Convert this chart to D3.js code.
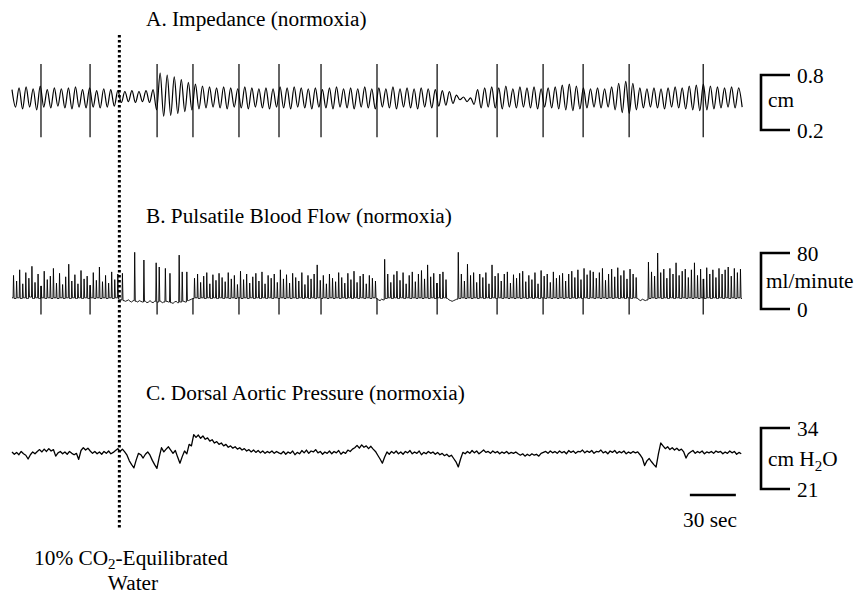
<!DOCTYPE html>
<html><head><meta charset="utf-8">
<script src="https://cdn.jsdelivr.net/npm/d3@7"></script>
<style>
body{margin:0;background:#fff}
text{font-family:"Liberation Serif","Times New Roman",serif;font-size:21.3px;fill:#000}
</style>
</head><body><svg id="c" width="858" height="595"></svg>
<script>
// ---------- data ----------
const timeSpan = [0, 476];            // seconds shown
const markerTime = 70;                // start of 10% CO2 water
const scaleBarStart = 442;            // 30 s scale bar
const scaleBarLength = 30;
const artifactTimes = [18.9, 50.9, 94.6, 118, 148, 174.1, 201.5, 238, 277.2, 316.3, 346.3, 372.4, 402.4, 450.7];
const impArtifact = [0.92, 0.12];
const flowArtifactLow = -8;

const titles = ["A. Impedance (normoxia)", "B. Pulsatile Blood Flow (normoxia)", "C. Dorsal Aortic Pressure (normoxia)"];
const impRange = [0.2, 0.8];
const flowRange = [0, 80];
const presRange = [21, 34];
const impUnit = "cm";
const flowUnit = "ml/minute";

const impStep = 2.3;
const impedance = [
0.64,0.45,0.66,0.43,0.67,0.45,0.65,0.42,0.68,0.45,0.64,0.44,0.66,0.46,0.65,0.44,0.66,0.43,0.67,0.45,
0.64,0.44,0.66,0.45,0.63,0.44,0.65,0.45,0.64,0.46,
0.63,0.50,0.62,0.51,0.63,0.50,0.62,0.51,0.63,0.50,0.64,
0.42,0.82,0.35,0.80,0.36,0.78,0.38,0.75,0.40,0.72,0.42,0.70,
0.43,0.68,0.44,0.67,0.45,0.66,0.44,0.67,0.43,0.66,0.45,0.65,0.44,0.67,0.43,0.66,0.45,0.65,0.44,0.66,
0.43,0.65,0.45,0.67,0.44,0.66,0.43,0.67,0.45,0.66,0.44,0.65,0.43,0.66,0.45,0.64,0.44,0.66,0.43,0.67,
0.45,0.65,0.44,0.66,0.43,0.65,0.45,0.67,0.44,0.65,0.43,0.66,0.45,0.65,0.44,0.67,0.43,0.65,0.45,0.66,
0.44,0.65,0.43,0.66,0.45,0.65,0.44,0.64,0.46,0.63,0.47,0.62,0.49,
0.58,0.53,0.56,0.51,0.55,0.48,
0.64,0.44,0.66,0.45,0.67,0.44,0.66,0.43,0.68,0.45,0.65,0.44,0.67,0.45,0.66,0.44,0.67,0.43,0.65,0.45,
0.66,0.44,0.67,0.43,0.69,0.42,0.70,0.41,0.68,0.43,0.66,0.44,0.65,0.45,0.66,0.44,0.65,0.45,0.67,0.42,
0.71,0.39,0.73,0.38,0.71,0.42,0.66,0.44,0.65,0.45,0.66,0.44,0.65,0.43,0.66,0.45,0.67,0.44,0.66,0.43,
0.68,0.42,0.69,0.41,0.70,0.42,0.68,0.43,0.67,0.44,0.66,0.45,0.67,0.44,0.66,0.45
];

const flowStep = 1;
const flow = [
16,48,15,40,16,56,15,36,16,52,15,44,17,61,15,38,16,50,15,33,
16,54,15,42,16,47,15,58,16,37,15,51,16,35,15,46,16,64,15,40,
16,49,15,36,16,55,15,43,16,47,15,34,16,52,15,41,16,60,15,39,
16,48,15,37,16,53,15,42,16,50,
14,13,51,12,11,12,13,11,10,12,81,11,10,12,11,10,70,11,9,10,
12,10,9,11,66,10,60,11,9,10,58,11,10,51,9,8,10,11,9,77,
10,53,11,10,53,12,13,14,15,
44,16,50,15,38,16,47,15,52,16,36,15,49,16,41,15,51,16,45,15,
39,16,52,15,43,16,48,15,35,16,54,15,42,16,50,15,37,16,46,15,
51,16,40,15,53,16,36,15,48,16,44,15,50,16,38,15,56,16,43,15,
49,16,37,15,51,16,45,15,40,16,52,15,35,16,48,15,43,16,50,15,
63,16,41,15,48,16,36,15,50,16,44,15,39,16,52,15,45,16,37,15,
51,16,42,15,54,16,38,15,47,16,50,15,36,16,48,15,44,16,40,15,
13,12,14,13,71,15,50,16,38,15,49,16,54,15,41,16,52,15,36,16,
48,15,53,16,39,15,50,16,55,15,43,16,63,15,46,16,51,15,37,16,
50,15,53,16,42,15,13,12,11,12,13,14,81,15,50,16,40,15,64,16,
48,15,52,16,38,15,50,16,45,15,52,16,36,15,63,16,47,15,51,16,
40,15,50,16,53,15,37,16,49,15,44,16,51,15,54,16,39,15,48,16,
42,15,52,16,36,15,55,16,47,15,50,16,38,15,53,16,44,15,48,16,
51,15,40,16,50,15,54,16,45,15,56,16,42,15,58,16,49,15,55,16,
53,15,44,16,52,15,58,16,41,15,50,16,57,15,46,16,59,15,48,16,
55,15,43,16,57,15,50,16,45,15,13,12,14,13,12,13,67,15,53,16,
47,15,80,16,52,15,57,16,44,15,58,16,50,15,66,16,48,15,54,16,
57,15,45,16,56,15,66,16,48,15,57,16,43,15,59,16,50,15,56,16,
45,15,58,16,50,15,56,16,60,15,47,16,58,15,52,16,57,15
];

const presStep = 1.5;
const pressure = [
28.9,28.4,28.8,28.3,29.0,28.5,28.2,27.4,28.3,28.9,28.5,29.0,29.4,28.9,29.5,29.0,29.6,29.1,29.4,28.0,
28.7,29.0,28.5,28.9,28.4,29.0,28.6,28.3,28.6,27.3,29.2,29.8,29.3,29.7,29.1,28.6,29.0,28.5,28.9,28.4,
29.0,28.6,29.1,28.5,28.8,29.2,29.6,
29.0,29.5,28.9,28.2,27.0,26.2,25.5,27.2,28.6,28.3,27.6,28.4,28.9,28.2,27.1,26.2,25.4,27.8,29.8,28.9,
29.5,30.0,29.3,28.6,29.2,27.8,26.5,27.9,29.1,28.5,30.5,30.2,32.6,
32.0,32.5,31.8,32.3,31.6,31.9,31.2,31.5,30.8,31.1,30.5,30.8,30.2,30.5,29.9,30.2,29.7,30.0,29.5,29.8,
29.3,29.6,29.1,29.4,28.9,29.3,28.8,29.2,28.7,29.1,28.6,29.0,28.7,29.1,28.6,29.0,28.7,
28.5,29.0,28.4,28.9,28.6,29.1,28.3,28.8,28.5,29.2,28.7,29.3,28.6,29.1,28.9,29.4,28.7,29.0,28.4,28.9,
28.6,29.1,28.5,29.0,28.7,29.2,28.4,28.9,28.6,29.3,29.0,29.5,
29.8,30.3,29.7,30.4,29.9,30.2,29.6,30.1,29.5,29.0,
28.2,27.4,26.5,27.8,28.9,28.4,29.0,
28.6,29.1,28.5,28.9,28.4,29.0,28.7,29.2,28.5,28.9,28.6,29.1,28.3,28.8,28.5,29.0,28.6,28.9,28.4,28.8,
28.3,28.6,28.1,28.4,27.9,28.2,27.5,26.8,25.7,27.4,28.8,28.5,
29.0,28.6,29.2,28.7,29.1,28.5,28.9,29.3,28.8,29.0,28.6,29.1,28.7,29.0,28.5,28.9,28.6,29.0,28.5,28.8,
28.6,28.9,28.5,
28.2,28.5,28.0,28.4,28.1,28.5,28.2,28.4,28.0,28.6,28.8,29.0,28.6,29.1,28.7,29.0,
28.6,29.1,28.7,29.0,28.5,29.2,28.8,29.1,28.6,29.0,28.9,29.3,28.7,29.1,28.8,29.2,28.6,29.0,28.9,29.3,
28.7,29.0,28.5,29.1,28.8,29.2,28.6,29.0,28.7,29.1,28.5,28.9,28.6,29.0,28.7,28.9,28.3,27.6,
26.0,27.0,27.5,26.8,26.2,25.7,28.5,30.8,30.2,
29.6,30.0,29.4,29.8,29.3,29.7,29.2,29.5,28.9,
27.6,28.5,
28.9,29.2,28.6,29.0,28.7,29.1,28.5,28.9,28.7,29.0,28.6,29.1,28.8,29.0,28.5,28.9,28.6,29.1,28.7,29.0,
28.4,28.8,28.5
];

// ---------- drawing ----------
const svg = d3.select("#c");
const x = d3.scaleLinear().domain(timeSpan).range([12, 742]);
const yImp = d3.scaleLinear().domain(impRange).range([130, 75]);
const yFlow = d3.scaleLinear().domain(flowRange).range([309, 253]);
const yPres = d3.scaleLinear().domain(presRange).range([489, 428]);

function trace(data, step, y, curve, w) {
  svg.append("path")
    .datum(data)
    .attr("fill", "none").attr("stroke", "#000").attr("stroke-width", w)
    .attr("stroke-linejoin", "round")
    .attr("d", d3.line().x((d, i) => x(i * step)).y(d => y(d)).curve(curve));
}
trace(impedance, impStep, yImp, d3.curveMonotoneX, 1.2);
trace(pressure, presStep, yPres, d3.curveLinear, 1.3);

// pulsatile flow: each beat is drawn as a near-vertical spike at its sample time
(function () {
  const pts = [];
  flow.forEach((v, i) => {
    const prev = i > 0 ? flow[i - 1] : v, next = i < flow.length - 1 ? flow[i + 1] : v;
    const px = x(i * flowStep);
    if (v > prev + 5 && v > next + 5) {
      pts.push([px - 0.45, yFlow(prev)], [px, yFlow(v)], [px + 0.6, yFlow(next)]);
    } else {
      pts.push([px, yFlow(v)]);
    }
  });
  svg.append("path").attr("fill", "none").attr("stroke", "#000").attr("stroke-width", 0.9)
    .attr("stroke-linejoin", "miter").attr("d", d3.line()(pts));
})();

// artifact spikes
svg.append("g").selectAll("line").data(artifactTimes).join("line")
  .attr("x1", d => x(d)).attr("x2", d => x(d))
  .attr("y1", yImp(impArtifact[0])).attr("y2", yImp(impArtifact[1]))
  .attr("stroke", "#000").attr("stroke-width", 1.2);
svg.append("g").selectAll("line").data(artifactTimes).join("line")
  .attr("x1", d => x(d)).attr("x2", d => x(d))
  .attr("y1", d => yFlow(flow[Math.round(d / flowStep)]))
  .attr("y2", yFlow(flowArtifactLow))
  .attr("stroke", "#000").attr("stroke-width", 1.2);

// marker dotted line
svg.append("line")
  .attr("x1", x(markerTime)).attr("x2", x(markerTime))
  .attr("y1", 35).attr("y2", 529)
  .attr("stroke", "#000").attr("stroke-width", 3)
  .attr("stroke-dasharray", "2.5,2.5");

// titles
const titleY = [26, 223, 400];
titles.forEach((t, i) => svg.append("text").attr("x", 146).attr("y", titleY[i]).text(t));

// scale brackets
function bracket(y, dom, lowLabel, highLabel, unitSel, labY) {
  const bx = 761, ex = 790;
  svg.append("path").attr("fill", "none").attr("stroke", "#000").attr("stroke-width", 2.6)
    .attr("d", `M${ex},${y(dom[1])}H${bx}V${y(dom[0])}H${ex}`);
  svg.append("text").attr("x", 797).attr("y", y(dom[1]) + 8).text(highLabel);
  svg.append("text").attr("x", 797).attr("y", y(dom[0]) + 8).text(lowLabel);
  unitSel(labY);
}
bracket(yImp, impRange, "0.2", "0.8", ly => svg.append("text").attr("x", 768).attr("y", ly).text(impUnit), 107);
bracket(yFlow, flowRange, "0", "80", ly => svg.append("text").attr("x", 766).attr("y", ly).text(flowUnit), 288);
bracket(yPres, presRange, "21", "34", ly => {
  const t = svg.append("text").attr("x", 768).attr("y", ly);
  t.append("tspan").text("cm H");
  t.append("tspan").attr("dy", 5).attr("font-size", "15px").text("2");
  t.append("tspan").attr("dy", -5).text("O");
}, 466);

// 30 s scale bar
svg.append("line")
  .attr("x1", x(scaleBarStart)).attr("x2", x(scaleBarStart + scaleBarLength))
  .attr("y1", 495).attr("y2", 495)
  .attr("stroke", "#000").attr("stroke-width", 2.6);
svg.append("text").attr("x", x(scaleBarStart + scaleBarLength) + 1).attr("y", 527)
  .attr("text-anchor", "end").text(scaleBarLength + " sec");

// bottom label
const lab = svg.append("text").attr("x", 131).attr("y", 565).attr("text-anchor", "middle");
lab.append("tspan").text("10% CO");
lab.append("tspan").attr("dy", 4).attr("font-size", "15px").text("2");
lab.append("tspan").attr("dy", -4).text("-Equilibrated");
svg.append("text").attr("x", 133).attr("y", 590).attr("text-anchor", "middle").text("Water");
</script>
</body></html>
